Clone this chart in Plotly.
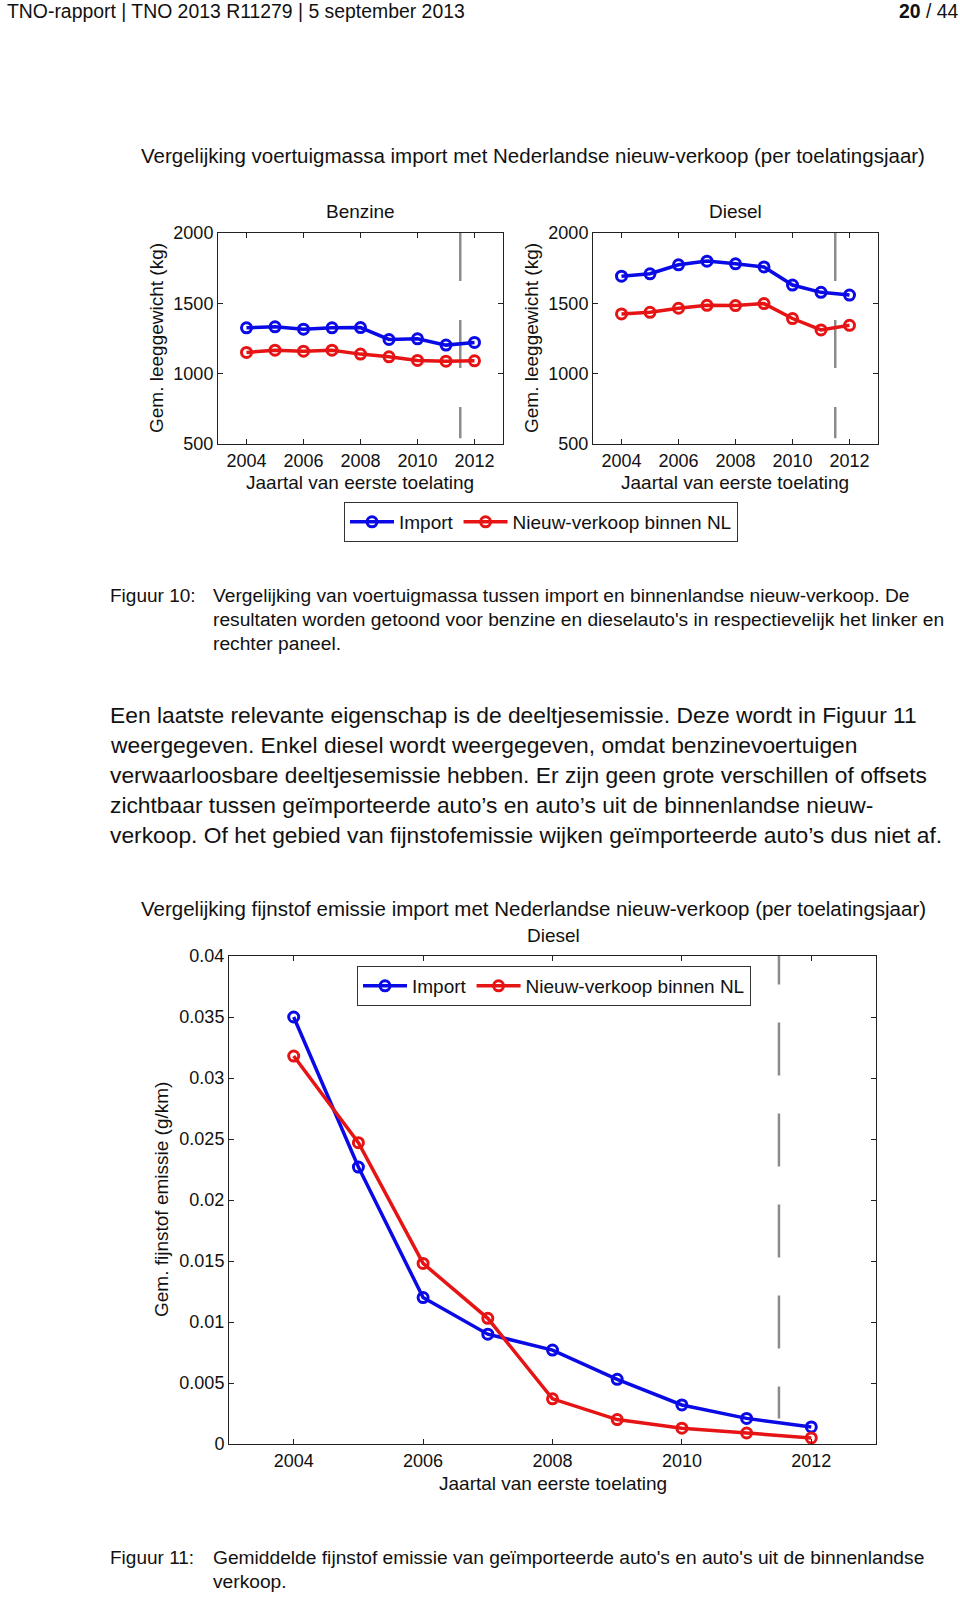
import plotly.graph_objects as go

W, H = 960, 1597

years = [2004, 2005, 2006, 2007, 2008, 2009, 2010, 2011, 2012]
benzine_import = [1326, 1333, 1316, 1326, 1328, 1243, 1248, 1203, 1222]
benzine_nl = [1151, 1167, 1160, 1167, 1139, 1120, 1094, 1089, 1091]
diesel_import = [1693, 1710, 1774, 1800, 1781, 1759, 1630, 1578, 1559]
diesel_nl = [1425, 1436, 1465, 1486, 1484, 1498, 1392, 1311, 1344]
pm_import = [0.0350, 0.0227, 0.0120, 0.0090, 0.0077, 0.0053, 0.0032, 0.0021, 0.0014]
pm_nl = [0.0318, 0.0247, 0.0148, 0.0103, 0.0037, 0.0020, 0.0013, 0.0009, 0.0005]
cutoff_year = 2011.5

year_ticks = [2004, 2006, 2008, 2010, 2012]
mass_ticks = [500, 1000, 1500, 2000]
pm_ticks = [0, 0.005, 0.01, 0.015, 0.02, 0.025, 0.03, 0.035, 0.04]
pm_tick_labels = ["0", "0.005", "0.01", "0.015", "0.02", "0.025", "0.03", "0.035", "0.04"]

series_names = ["Import", "Nieuw-verkoop binnen NL"]

header_left = "TNO-rapport | TNO 2013 R11279 | 5 september 2013"
header_right = "<b>20</b> / 44"
title_mass = "Vergelijking voertuigmassa import met Nederlandse nieuw-verkoop (per toelatingsjaar)"
title_pm = "Vergelijking fijnstof emissie import met Nederlandse nieuw-verkoop (per toelatingsjaar)"
xlabel = "Jaartal van eerste toelating"
ylabel_mass = "Gem. leeggewicht (kg)"
ylabel_pm = "Gem. fijnstof emissie (g/km)"
caption10 = ["Vergelijking van voertuigmassa tussen import en binnenlandse nieuw-verkoop. De",
             "resultaten worden getoond voor benzine en dieselauto's in respectievelijk het linker en",
             "rechter paneel."]
paragraph = ["Een laatste relevante eigenschap is de deeltjesemissie. Deze wordt in Figuur 11",
             "weergegeven. Enkel diesel wordt weergegeven, omdat benzinevoertuigen",
             "verwaarloosbare deeltjesemissie hebben. Er zijn geen grote verschillen of offsets",
             "zichtbaar tussen geïmporteerde auto’s en auto’s uit de binnenlandse nieuw-",
             "verkoop. Of het gebied van fijnstofemissie wijken geïmporteerde auto’s dus niet af."]
caption11 = ["Gemiddelde fijnstof emissie van geïmporteerde auto's en auto's uit de binnenlandse",
             "verkoop."]

BLUE = "#0a0ae6"
RED = "#e61414"
GREY = "#8c8c8c"
FONT = "Liberation Sans, Arial, sans-serif"


def px(x):
    return x / W


def py(y):
    return 1 - y / H


fig = go.Figure()


def add_pair(xa, ya, imp, nl, legend, show, width=3.5):
    for vals, name, col in [(imp, series_names[0], BLUE), (nl, series_names[1], RED)]:
        fig.add_trace(go.Scatter(
            x=years, y=vals, name=name, xaxis=xa, yaxis=ya,
            mode="lines+markers", legend=legend, showlegend=show,
            line=dict(color=col, width=width),
            marker=dict(symbol="circle-open", size=10, color=col, line=dict(width=3, color=col)),
        ))


def add_cutoff(xa, ya, top, bottom, dash):
    fig.add_trace(go.Scatter(
        x=[cutoff_year, cutoff_year], y=[top, bottom], xaxis=xa, yaxis=ya,
        mode="lines", showlegend=False, hoverinfo="skip",
        line=dict(color=GREY, width=2.5, dash=dash),
    ))


add_cutoff("x", "y", 2000, 540, "48px,39px")
add_cutoff("x2", "y2", 2000, 540, "48px,39px")
add_cutoff("x3", "y3", 0.042, 0.0021, "53px,38px")
add_pair("x", "y", benzine_import, benzine_nl, "legend", True)
add_pair("x2", "y2", diesel_import, diesel_nl, "legend", False)
add_pair("x3", "y3", pm_import, pm_nl, "legend2", True)

axis_common = dict(showline=True, linecolor="#222", linewidth=1, mirror="ticks",
                   ticks="inside", ticklen=5, tickcolor="#222", showgrid=False,
                   zeroline=False, automargin=False,
                   tickfont=dict(family=FONT, size=18, color="#111"))

legend_style = dict(orientation="h", xanchor="center", yanchor="middle",
                    bgcolor="white", bordercolor="#333", borderwidth=1, itemwidth=44,
                    font=dict(family=FONT, size=19, color="#111"))

fig.update_layout(
    width=W, height=H, margin=dict(l=0, r=0, t=0, b=0),
    paper_bgcolor="white", plot_bgcolor="white",
    font=dict(family=FONT, color="#111"),
    xaxis=dict(domain=[px(218), px(503)], range=[2003, 2013], tickvals=year_ticks, anchor="y", **axis_common),
    yaxis=dict(domain=[py(444), py(233)], range=[500, 2000], tickvals=mass_ticks, anchor="x", **axis_common),
    xaxis2=dict(domain=[px(593), px(878)], range=[2003, 2013], tickvals=year_ticks, anchor="y2", **axis_common),
    yaxis2=dict(domain=[py(444), py(233)], range=[500, 2000], tickvals=mass_ticks, anchor="x2", **axis_common),
    xaxis3=dict(domain=[px(229), px(876)], range=[2003, 2013], tickvals=year_ticks, anchor="y3", **axis_common),
    yaxis3=dict(domain=[py(1444), py(956)], range=[0, 0.04], tickvals=pm_ticks, ticktext=pm_tick_labels,
                anchor="x3", **axis_common),
    legend=dict(x=px(541), y=py(522), **legend_style),
    legend2=dict(x=px(554), y=py(986), **legend_style),
)


def note(text, x, y, size, xanchor="left", angle=0):
    fig.add_annotation(text=text, x=px(x), y=py(y), xref="paper", yref="paper",
                       xanchor=xanchor, yanchor="middle", showarrow=False, textangle=angle,
                       font=dict(family=FONT, size=size, color="#111"))


note(header_left, 5, 11, 19.4)
note(header_right, 961, 11, 19.4, xanchor="right")

note(title_mass, 533, 155, 20.5, xanchor="center")
note("Benzine", 360, 211, 19, xanchor="center")
note("Diesel", 735, 211, 19, xanchor="center")
note(xlabel, 360, 482, 19, xanchor="center")
note(xlabel, 735, 482, 19, xanchor="center")
note(ylabel_mass, 156, 338, 19, xanchor="center", angle=-90)
note(ylabel_mass, 531, 338, 19, xanchor="center", angle=-90)

note("Figuur 10:", 108, 595, 19)
for i, line in enumerate(caption10):
    note(line, 211, 595 + i * 24.4, 19.2)

for i, line in enumerate(paragraph):
    note(line, 108, 715 + i * 30, 22.8)

note(title_pm, 533, 908, 20.5, xanchor="center")
note("Diesel", 553, 935, 19, xanchor="center")
note(xlabel, 553, 1483, 19, xanchor="center")
note(ylabel_pm, 161, 1200, 19, xanchor="center", angle=-90)

note("Figuur 11:", 108, 1557, 19)
for i, line in enumerate(caption11):
    note(line, 211, 1557 + i * 24.4, 19.2)

fig.write_html("out.html", config={"displayModeBar": False},
               post_script="document.body.style.margin='0';")
